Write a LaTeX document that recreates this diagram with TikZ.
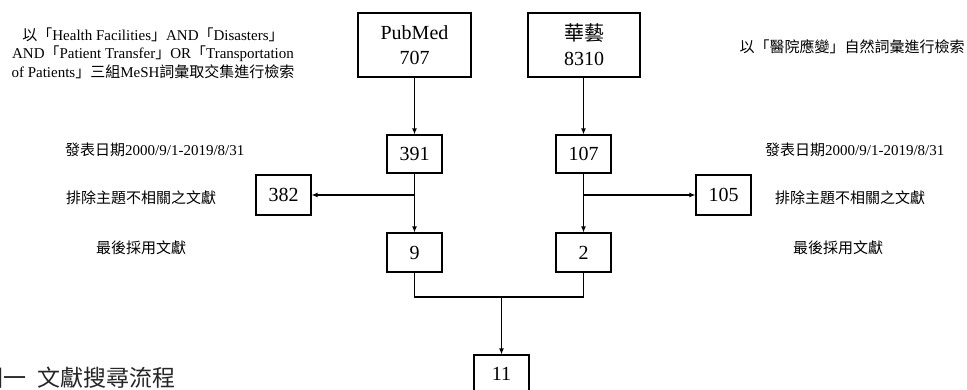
\documentclass[tikz,border=0pt]{standalone}
\usepackage{fontspec}
\setmainfont{Liberation Serif}
\newfontfamily\cjk{Noto Sans CJK TC}
\newcommand{\zh}[1]{{\cjk #1}}
\usetikzlibrary{arrows.meta}
\begin{document}
\begin{tikzpicture}[x=1pt,y=-1pt,
  box/.style={draw,line width=1.1pt,inner sep=0pt,align=center,font=\fontsize{20}{25}\selectfont},
  lbl/.style={inner sep=0pt,font=\fontsize{15}{18.5}\selectfont},
  conn/.style={line width=1.2pt},
  arr/.style={line width=1.2pt,-{Latex[length=6pt,width=5pt]}}]
\useasboundingbox (0,0) rectangle (967,390);
\clip (0,0) rectangle (967,390);
% boxes
\node[box,minimum width=113pt,minimum height=64pt] (pub) at (414.5,45) {PubMed\\707};
\node[box,minimum width=112pt,minimum height=64pt] (hy) at (584,45) {\zh{華藝}\\8310};
\node[box,minimum width=55pt,minimum height=38pt] (n391) at (414.5,154) {391};
\node[box,minimum width=55pt,minimum height=38pt] (n107) at (583.5,154) {107};
\node[box,minimum width=55pt,minimum height=40pt] (n382) at (283.5,195) {382};
\node[box,minimum width=55pt,minimum height=40pt] (n105) at (723.5,195) {105};
\node[box,minimum width=55pt,minimum height=39pt] (n9) at (414.5,252.5) {9};
\node[box,minimum width=55pt,minimum height=39pt] (n2) at (583.5,252.5) {2};
\node[box,minimum width=55pt,minimum height=38pt] (n11) at (501.5,374) {11};
\coordinate (j) at (501.5,297);
% connectors
\draw[arr] (pub) -- (n391);
\draw[arr] (hy.south -| n107) -- (n107);
\draw[arr] (n391) -- (n9);
\draw[arr] (n107) -- (n2);
\draw[arr] (n391 |- n382) -- (n382);
\draw[arr] (n107 |- n105) -- (n105);
\draw[conn] (n9.south) -- (n9.south |- j) -- (n2.south |- j) -- (n2.south);
\draw[arr] (n11 |- j) -- (n11);
% labels
\node[lbl,align=center] (q1) at (153,53) {\zh{以「}Health Facilities\zh{」}AND\zh{「}Disasters\zh{」}\\AND\zh{「}Patient Transfer\zh{」}OR\zh{「}Transportation\\of Patients\zh{」三組}MeSH\zh{詞彙取交集進行檢索}};
\node[lbl] (q2) at (852,47) {\zh{以「醫院應變」自然詞彙進行檢索}};
\node[lbl,anchor=west] (dl) at (65,150) {\zh{發表日期}2000/9/1-2019/8/31};
\node[lbl,anchor=west] (el) at (66,198) {\zh{排除主題不相關之文獻}};
\node[lbl,anchor=west] (fl) at (96,248) {\zh{最後採用文獻}};
\node[lbl,anchor=west] (dr) at (765,150) {\zh{發表日期}2000/9/1-2019/8/31};
\node[lbl,anchor=west] (er) at (775,198) {\zh{排除主題不相關之文獻}};
\node[lbl,anchor=west] (fr) at (793,248) {\zh{最後採用文獻}};
\node[inner sep=0pt,anchor=west,font=\cjk\fontsize{23}{28}\selectfont,text=black!85] (cap) at (-20,378) {圖一\hspace{11pt}文獻搜尋流程};
\end{tikzpicture}
\end{document}
